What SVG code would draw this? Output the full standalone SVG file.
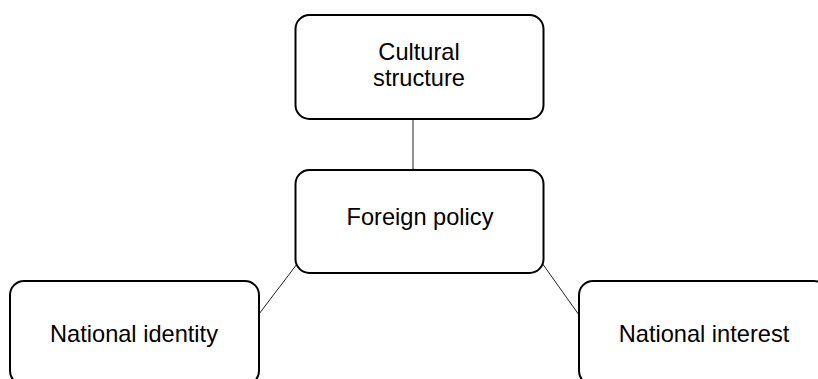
<svg xmlns="http://www.w3.org/2000/svg" width="818" height="379" viewBox="0 0 818 379">
<style>
.box{fill:#fff;stroke:#000;stroke-width:2}
.lbl{font-family:"Liberation Sans",Arial,sans-serif;font-size:23.6px;fill:#000;text-anchor:middle}
.conn{stroke:#222;stroke-width:1;fill:none}
</style>
<rect width="818" height="379" fill="#fff"/>
<g id="connectors">
<line class="conn" x1="413" y1="119" x2="413" y2="170"/>
<line class="conn" x1="297" y1="264" x2="259" y2="314"/>
<line class="conn" x1="542" y1="263" x2="579" y2="315"/>
</g>
<g id="cultural-structure">
<rect class="box" x="295.5" y="15" width="248" height="104" rx="14"/>
<text class="lbl" x="419" y="60">Cultural</text>
<text class="lbl" x="419" y="86">structure</text>
</g>
<g id="foreign-policy">
<rect class="box" x="295.5" y="170" width="248" height="103" rx="14"/>
<text class="lbl" x="420" y="225">Foreign policy</text>
</g>
<g id="national-identity">
<rect class="box" x="10" y="281" width="249" height="104" rx="14"/>
<text class="lbl" x="134" y="342">National identity</text>
</g>
<g id="national-interest">
<rect class="box" x="579" y="281" width="249" height="104" rx="14"/>
<text class="lbl" x="704" y="342">National interest</text>
</g>
</svg>
